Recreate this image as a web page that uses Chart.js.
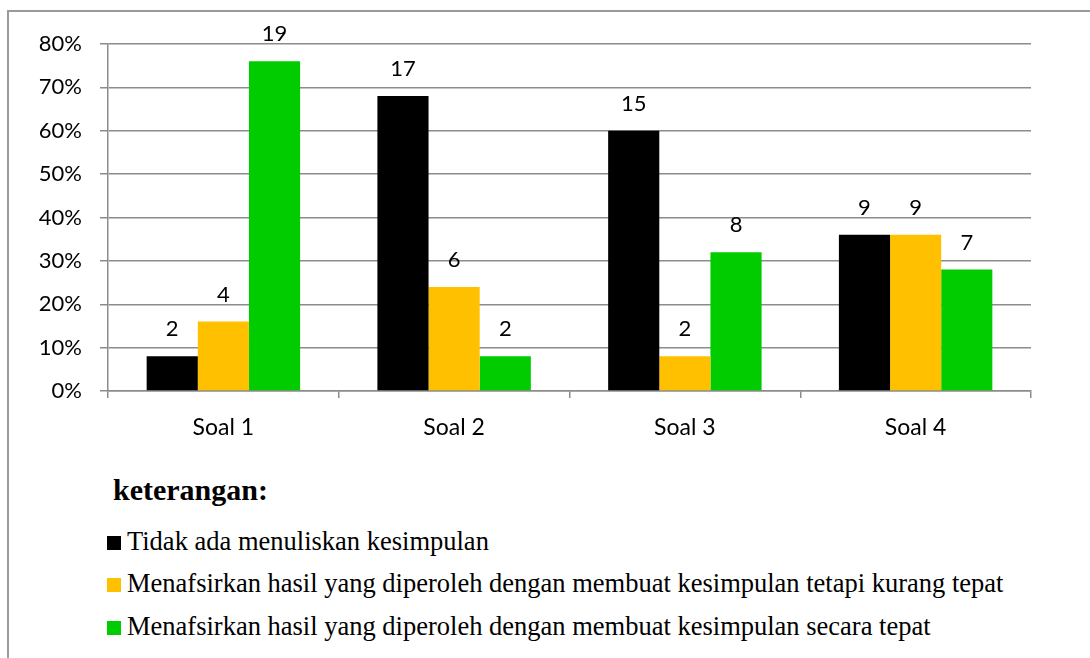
<!DOCTYPE html>
<html>
<head>
<meta charset="utf-8">
<script src="https://cdn.jsdelivr.net/npm/chart.js@4/dist/chart.umd.min.js"></script>
<style>
  body { margin: 0; background: #fff; width: 1090px; height: 658px; overflow: hidden; position: relative; }
  #frame { position: absolute; left: 7px; top: 10px; width: 1200px; height: 800px; border: 2px solid #9a9a9a; box-sizing: border-box; }
  #wrap { position: absolute; left: 0; top: 0; width: 1090px; height: 460px; }
  .judul { position: absolute; left: 113px; top: 472px; line-height: 36px; font-family: "Liberation Serif", serif; font-weight: bold; font-size: 30px; }
  .item { position: absolute; left: 107px; line-height: 30px; font-family: "Liberation Serif", serif; font-size: 26.5px; white-space: nowrap; }
  .item span { display: inline-block; width: 14px; height: 14px; margin-right: 6px; vertical-align: 0px; }
</style>
</head>
<body>
<div id="frame"></div>
<div id="wrap"><canvas id="grafik"></canvas></div>
<div class="judul">keterangan:</div>
<div id="keterangan"></div>

<script>
// data (persen dari 25 siswa)
const kategori = ['Soal 1', 'Soal 2', 'Soal 3', 'Soal 4'];
const namaSeri = [
  'Tidak ada menuliskan kesimpulan',
  'Menafsirkan hasil yang diperoleh dengan membuat kesimpulan tetapi kurang tepat',
  'Menafsirkan hasil yang diperoleh dengan membuat kesimpulan secara tepat'
];
const tidakAda = [8, 68, 60, 36];
const kurangTepat = [16, 24, 8, 36];
const tepat = [76, 8, 32, 28];
// jumlah siswa yang ditulis di atas batang
const jumlahTidakAda = [2, 17, 15, 9];
const jumlahKurangTepat = [4, 6, 2, 9];
const jumlahTepat = [19, 2, 8, 7];
const warna = ['#000000', '#FFC000', '#00CC00'];

const nilai = [tidakAda, kurangTepat, tepat];
const jumlah = [jumlahTidakAda, jumlahKurangTepat, jumlahTepat];
const hurufGrafik = 'Lato, "Open Sans", sans-serif';

// label angka di atas batang
const labelAtas = {
  id: 'labelAtas',
  afterDatasetsDraw(chart) {
    const ctx = chart.ctx;
    ctx.save();
    ctx.font = '22px ' + hurufGrafik;
    ctx.fillStyle = '#000';
    ctx.textAlign = 'center';
    ctx.textBaseline = 'middle';
    chart.data.datasets.forEach((ds, i) => {
      chart.getDatasetMeta(i).data.forEach((bar, j) => {
        ctx.fillText(String(jumlah[i][j]), bar.x, bar.y - 27);
      });
    });
    ctx.restore();
  }
};

const ctx = document.getElementById('grafik').getContext('2d');
new Chart(ctx, {
  type: 'bar',
  data: {
    labels: kategori,
    datasets: nilai.map((d, i) => ({
      label: namaSeri[i],
      data: d,
      backgroundColor: warna[i],
      borderWidth: 0,
      barPercentage: 1,
      categoryPercentage: 0.665
    }))
  },
  options: {
    responsive: true,
    maintainAspectRatio: false,
    animation: false,
    layout: { padding: { top: 44, right: 59, left: 0, bottom: 0 } },
    plugins: { legend: { display: false }, tooltip: { enabled: false } },
    scales: {
      y: {
        min: 0, max: 80,
        afterFit(s) { s.width = 108; },
        ticks: {
          stepSize: 10,
          padding: 18,
          color: '#000',
          font: { family: hurufGrafik, size: 22 },
          callback: v => v + '%'
        },
        grid: { color: '#8c8c8c', lineWidth: 1.5, tickLength: 8 },
        border: { color: '#8c8c8c', width: 1.5 }
      },
      x: {
        afterFit(s) { s.height = 460 - 391; },
        ticks: {
          padding: 16,
          color: '#000',
          font: { family: hurufGrafik, size: 23 }
        },
        grid: { display: true, drawOnChartArea: false, color: '#8c8c8c', lineWidth: 1.5, tickLength: 7, offset: true },
        border: { color: '#8c8c8c', width: 1.5 }
      }
    }
  },
  plugins: [labelAtas]
});

// keterangan di bawah grafik
const wadah = document.getElementById('keterangan');
const posisiAtas = [526, 568, 611];
namaSeri.forEach((n, i) => {
  const el = document.createElement('div');
  el.className = 'item';
  el.style.top = posisiAtas[i] + 'px';
  el.innerHTML = '<span style="background:' + warna[i] + '"></span>' + n;
  wadah.appendChild(el);
});
</script>
</body>
</html>
